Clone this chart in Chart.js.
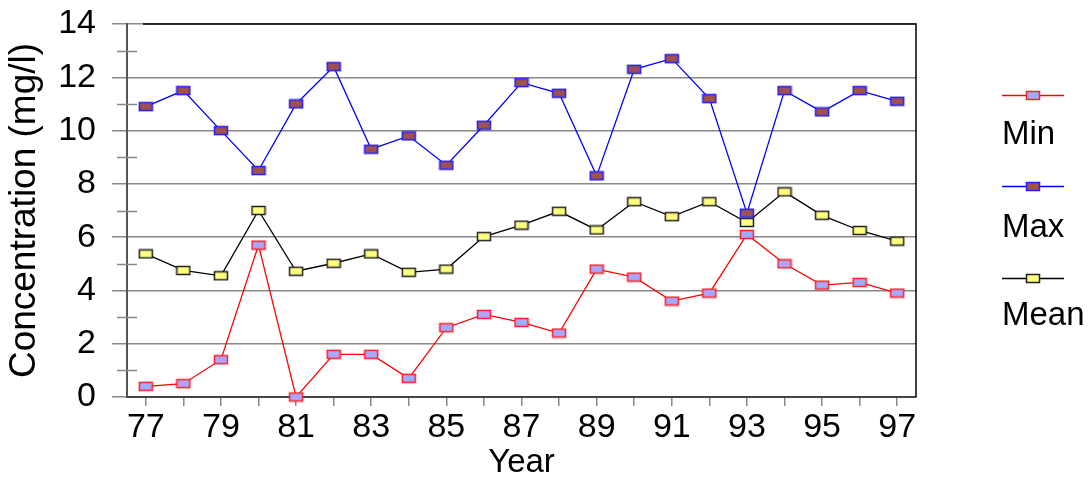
<!DOCTYPE html>
<html>
<head>
<meta charset="utf-8">
<script src="https://cdn.jsdelivr.net/npm/chart.js@4/dist/chart.umd.min.js"></script>
<style>
html,body{margin:0;padding:0;background:#fff;}
#wrap{width:1090px;height:483px;position:relative;}
</style>
</head>
<body>
<div id="wrap"><canvas id="c" width="1090" height="483"></canvas></div>
<script>
const years = ['77','78','79','80','81','82','83','84','85','86','87','88','89','90','91','92','93','94','95','96','97'];
const minValues  = [0.4,0.5,1.4,5.7,0.0,1.6,1.6,0.7,2.6,3.1,2.8,2.4,4.8,4.5,3.6,3.9,6.1,5.0,4.2,4.3,3.9];
const maxValues  = [10.9,11.5,10.0,8.5,11.0,12.4,9.3,9.8,8.7,10.2,11.8,11.4,8.3,12.3,12.7,11.2,6.9,11.5,10.7,11.5,11.1];
const meanValues = [5.37,4.75,4.55,7.0,4.72,5.02,5.37,4.68,4.8,6.02,6.45,6.97,6.27,7.33,6.77,7.33,6.55,7.7,6.82,6.25,5.85];
const yTicks = [0,2,4,6,8,10,12,14];
const seriesNames = ['Min','Max','Mean'];

const FONT = '"Liberation Sans", Arial, sans-serif';

function marker(fill, stroke){
  const cv = document.createElement('canvas');
  cv.width = 16; cv.height = 11;
  const g = cv.getContext('2d');
  g.fillStyle = fill;
  g.fillRect(1.5,1.5,13,8);
  g.strokeStyle = stroke;
  g.lineWidth = 1.5;
  g.strokeRect(1.5,1.5,13,8);
  return cv;
}
const mMin = marker('#a8a8ff','#ff2020');
const mMax = marker('#a05050','#2020ff');
const mMean = marker('#ffff80','#202020');

const framePlugin = {
  id:'frame',
  afterDraw(chart){
    const ctx = chart.ctx, a = chart.chartArea, y = chart.scales.y;
    ctx.save();
    ctx.strokeStyle = '#888';
    ctx.lineWidth = 1.5;
    for (let v = 1; v < 14; v += 2){
      const py = Math.round(y.getPixelForValue(v)) + 0.5;
      ctx.beginPath(); ctx.moveTo(a.left-10, py); ctx.lineTo(a.left+10, py); ctx.stroke();
    }
    ctx.strokeStyle = '#000';
    ctx.lineWidth = 1.5;
    ctx.beginPath();
    ctx.moveTo(a.left+16, a.top); ctx.lineTo(a.right, a.top); ctx.lineTo(a.right, a.bottom);
    ctx.stroke();
    const items = [
      {name:seriesNames[0], color:'#ff0000', m:mMin, ly:95, ty:135},
      {name:seriesNames[1], color:'#0000ff', m:mMax, ly:186, ty:228},
      {name:seriesNames[2], color:'#000000', m:mMean, ly:278, ty:316}
    ];
    items.forEach(it=>{
      ctx.strokeStyle = it.color; ctx.lineWidth = 1.3;
      ctx.beginPath(); ctx.moveTo(1002, it.ly+0.5); ctx.lineTo(1064, it.ly+0.5); ctx.stroke();
      ctx.drawImage(it.m, 1033-8, it.ly-5);
      ctx.fillStyle = '#000';
      ctx.font = '33px ' + FONT;
      ctx.textBaseline = 'middle';
      ctx.textAlign = 'left';
      ctx.fillText(it.name, 1002, it.ty);
    });
    ctx.restore();
  }
};

new Chart(document.getElementById('c'), {
  type:'line',
  data:{
    labels: years,
    datasets:[
      {label:seriesNames[1], data:maxValues, borderColor:'#0000ff', borderWidth:1.3, pointStyle:mMax, pointRadius:6, tension:0, clip:false},
      {label:seriesNames[2], data:meanValues, borderColor:'#000000', borderWidth:1.3, pointStyle:mMean, pointRadius:6, tension:0, clip:false},
      {label:seriesNames[0], data:minValues, borderColor:'#ff0000', borderWidth:1.3, pointStyle:mMin, pointRadius:6, tension:0, clip:false}
    ]
  },
  options:{
    responsive:false,
    animation:false,
    devicePixelRatio:1,
    layout:{padding:{top:24,right:174,left:0,bottom:0}},
    plugins:{legend:{display:false}, tooltip:{enabled:false}},
    scales:{
      x:{
        type:'category',
        offset:true,
        grid:{display:true, drawOnChartArea:false, drawTicks:true, tickLength:9, color:'#888', lineWidth:1.5, offset:false},
        border:{display:true, color:'#444', width:2},
        ticks:{autoSkip:false, maxRotation:0, padding:1, color:'#000', font:{family:FONT, size:34},
          callback:function(v,i){ const l = years[i]; return (parseInt(l,10) % 2 === 1) ? l : ''; }},
        title:{display:true, text:'Year', color:'#000', font:{family:FONT, size:33}, padding:{top:0,bottom:0}},
        afterFit(s){ s.height = 86; s.paddingLeft = 0; s.paddingRight = 0; }
      },
      y:{
        min:0, max:14,
        afterBuildTicks(s){ s.ticks = yTicks.map(v=>({value:v})); },
        grid:{color:'#888', lineWidth:1.5, tickLength:15},
        border:{display:true, color:'#555', width:2},
        ticks:{padding:16, color:'#000', font:{family:FONT, size:34}},
        title:{display:true, text:'Concentration (mg/l)', color:'#000', font:{family:FONT, size:37}, padding:{top:3,bottom:0}},
        afterFit(s){ s.width = 127; s.paddingTop = 0; s.paddingBottom = 0; }
      }
    }
  },
  plugins:[framePlugin]
});
</script>
</body>
</html>
